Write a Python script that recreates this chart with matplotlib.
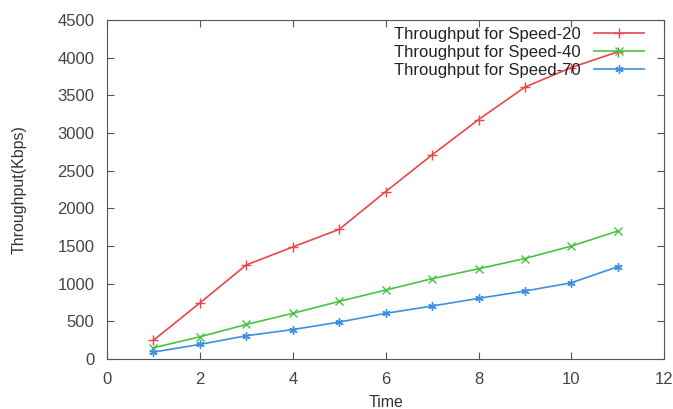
import numpy as np
import matplotlib
matplotlib.use("Agg")
import matplotlib.pyplot as plt

plt.rcParams['font.family'] = ['Liberation Sans', 'DejaVu Sans']

# time steps
time = [1, 2, 3, 4, 5, 6, 7, 8, 9, 10, 11]

# throughput (Kbps) for each speed
speed20 = [250, 745, 1250, 1488, 1722, 2222, 2710, 3178, 3610, 3870, 4078]
speed40 = [150, 296, 460, 607, 766, 916, 1067, 1199, 1335, 1500, 1700]
speed70 = [93, 195, 310, 392, 491, 607, 704, 806, 903, 1013, 1226]

labels = ['Throughput for Speed-20', 'Throughput for Speed-40', 'Throughput for Speed-70']

fig = plt.figure(figsize=(6.73, 4.09), dpi=100)
ax = fig.add_axes([0.159, 0.122, 0.828, 0.829])

ax.plot(time, speed20, color='#e8474a', marker='+', ms=7, lw=1.2, label=labels[0])
ax.plot(time, speed40, color='#45c445', marker='x', ms=6, lw=1.2, label=labels[1])
ax.plot(time, speed70, color='#3d8fe3', marker=(6, 2, 0), ms=6, lw=1.2, label=labels[2])

ax.set_xlim(0, 12)
ax.set_ylim(0, 4500)
ax.set_xticks(np.arange(0, 13, 2))
ax.set_yticks(np.arange(0, 4501, 500))
ax.tick_params(direction='in', top=True, right=True, length=5,
               labelsize=12, labelcolor='#444444', color='#555555', pad=9)
for s in ax.spines.values():
    s.set_color('#555555')

ax.set_xlabel('Time', fontsize=11.5, color='#333333', labelpad=6)
ax.set_ylabel('Throughput(Kbps)', fontsize=11.5, color='#333333', labelpad=22)

# legend in gnuplot style: text on the left, sample on the right
leg = ax.legend(loc='upper right', markerfirst=False, frameon=False, fontsize=12,
                handlelength=3.0, handletextpad=0.8, labelspacing=0.18,
                borderaxespad=0.0, bbox_to_anchor=(0.975, 1.0))
for t in leg.get_texts():
    t.set_ha('right')
    t.set_color('#222222')

fig.savefig('out.png', dpi=100)
